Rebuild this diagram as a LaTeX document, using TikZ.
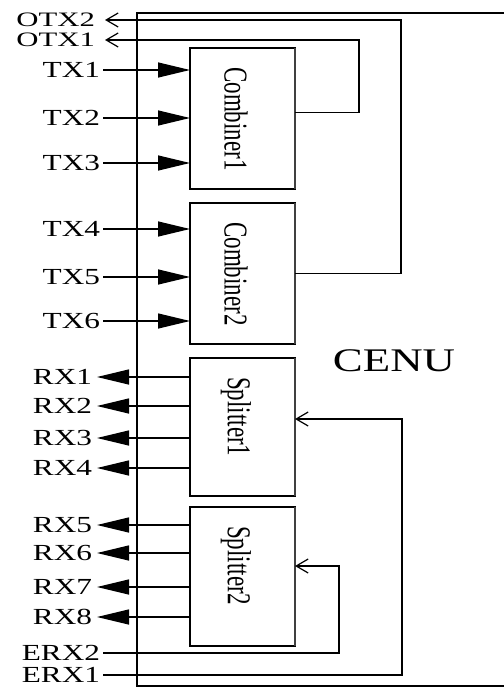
\documentclass[tikz,border=0pt]{standalone}
\usepackage{fontspec}
\setmainfont{Liberation Serif}
\usetikzlibrary{arrows.meta}
\newcommand{\hs}[1]{\scalebox{1.36}[1]{#1}}
\newcommand{\hw}[1]{\scalebox{1.5}[1]{#1}}
\newcommand{\vs}[1]{\scalebox{1.45}[1]{\rotatebox{-90}{#1}}}
\begin{document}
\begin{tikzpicture}[x=1bp,y=-1bp,
 lbl/.style={anchor=east, inner sep=0pt, outer xsep=3bp, font=\fontsize{23bp}{25bp}\selectfont},
 olbl/.style={lbl, outer xsep=10bp, font=\fontsize{20.5bp}{22bp}\selectfont},
 blk/.style={draw, line width=1.6bp, minimum width=105bp, inner sep=0pt, outer sep=0pt},
 redge/.style={line width=2.6bp, black!75},
 vtxt/.style={anchor=north, inner sep=0pt, font=\fontsize{23bp}{25bp}\selectfont},
 wire/.style={line width=1.3bp},
 inarrow/.style={wire, -{Triangle[length=32bp,width=15bp]}},
 openarrow/.style={wire, -{Straight Barb[length=12bp,width=14bp,line width=1.2bp]}},
]
\useasboundingbox (0,0) rectangle (504,688);
\clip (0,0) rectangle (504,688);
% CENU outline
\draw[line width=1.8bp] (137,13) rectangle (540,686);
\node[font=\fontsize{33bp}{35bp}\selectfont, inner sep=0pt] (cenu) at (394,361) {\hs{CENU}};
% blocks
\node[blk, minimum height=141bp] (c1) at (242.5,118.5) {};
\node[blk, minimum height=141bp] (c2) at (242.5,273.5) {};
\node[blk, minimum height=138bp] (s1) at (242.5,427) {};
\node[blk, minimum height=139bp] (s2) at (242.5,576.5) {};
\draw[redge] (c1.north east) -- (c1.south east);
\draw[redge] (c2.north east) -- (c2.south east);
\draw[redge] (s1.north east) -- (s1.south east);
\draw[redge] (s2.north east) -- (s2.south east);
\node[vtxt] (c1t) at (236,67) {\vs{Combiner1}};
\node[vtxt] (c2t) at (236,222) {\vs{Combiner2}};
\node[vtxt] (s1t) at (236,377) {\vs{Splitter1}};
\node[vtxt] (s2t) at (236,526) {\vs{Splitter2}};
% TX inputs
\node[lbl] (tx1) at (103,70) {\hs{TX1}};
\node[lbl] (tx2) at (103,118) {\hs{TX2}};
\node[lbl] (tx3) at (103,163) {\hs{TX3}};
\node[lbl] (tx4) at (103,229) {\hs{TX4}};
\node[lbl] (tx5) at (103,277) {\hs{TX5}};
\node[lbl] (tx6) at (103,321) {\hs{TX6}};
\draw[inarrow] (tx1.east) -- (tx1.east -| c1.west);
\draw[inarrow] (tx2.east) -- (tx2.east -| c1.west);
\draw[inarrow] (tx3.east) -- (tx3.east -| c1.west);
\draw[inarrow] (tx4.east) -- (tx4.east -| c2.west);
\draw[inarrow] (tx5.east) -- (tx5.east -| c2.west);
\draw[inarrow] (tx6.east) -- (tx6.east -| c2.west);
% RX outputs
\node[lbl, outer xsep=5bp] (rx1) at (97,377) {\hs{RX1}};
\node[lbl, outer xsep=5bp] (rx2) at (97,406) {\hs{RX2}};
\node[lbl, outer xsep=5bp] (rx3) at (97,438) {\hs{RX3}};
\node[lbl, outer xsep=5bp] (rx4) at (97,468) {\hs{RX4}};
\node[lbl, outer xsep=5bp] (rx5) at (97,525) {\hs{RX5}};
\node[lbl, outer xsep=5bp] (rx6) at (97,553) {\hs{RX6}};
\node[lbl, outer xsep=5bp] (rx7) at (97,587) {\hs{RX7}};
\node[lbl, outer xsep=5bp] (rx8) at (97,617) {\hs{RX8}};
\draw[inarrow] (rx1.east -| s1.west) -- (rx1.east);
\draw[inarrow] (rx2.east -| s1.west) -- (rx2.east);
\draw[inarrow] (rx3.east -| s1.west) -- (rx3.east);
\draw[inarrow] (rx4.east -| s1.west) -- (rx4.east);
\draw[inarrow] (rx5.east -| s2.west) -- (rx5.east);
\draw[inarrow] (rx6.east -| s2.west) -- (rx6.east);
\draw[inarrow] (rx7.east -| s2.west) -- (rx7.east);
\draw[inarrow] (rx8.east -| s2.west) -- (rx8.east);
% OTX outputs
\node[olbl] (otx2) at (105,20) {\hw{OTX2}};
\node[olbl] (otx1) at (105,40) {\hw{OTX1}};
\coordinate (k1) at (359,40);
\coordinate (k2) at (401,20);
\draw[openarrow] ([yshift=6bp]c1.east) -| (k1) -- (otx1.east);
\draw[openarrow] (c2.east) -| (k2) -- (otx2.east);
% ERX inputs
\node[lbl] (erx2) at (103,653) {\hs{ERX2}};
\node[lbl] (erx1) at (103,675) {\hs{ERX1}};
\coordinate (k3) at (402,419);
\coordinate (k4) at (339,566);
\draw[openarrow] (erx1.east) -| (k3) -- (k3 -| s1.east);
\draw[openarrow] (erx2.east) -| (k4) -- (k4 -| s2.east);
\end{tikzpicture}
\end{document}
